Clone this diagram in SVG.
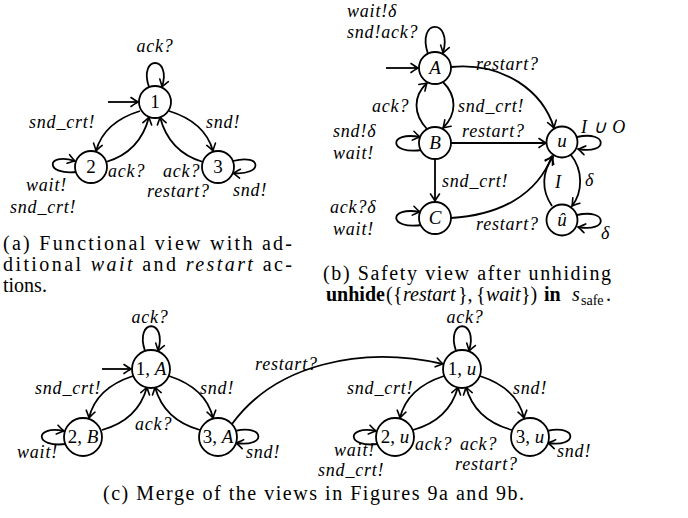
<svg xmlns="http://www.w3.org/2000/svg" width="688" height="518" viewBox="0 0 688 518">
<style>
.n{fill:#fff;stroke:#000;stroke-width:1.8}
.e{fill:none;stroke:#000;stroke-width:1.8;marker-end:url(#ar)}
.nl{font-family:"Liberation Serif",serif;font-size:19px;fill:#000;text-anchor:middle}
.lb{font-family:"Liberation Serif",serif;font-style:italic;font-size:18px;letter-spacing:0.8px;fill:#000}
.c{font-family:"Liberation Serif",serif;font-size:20px;fill:#000}
.i{font-style:italic}
.b{font-weight:bold}
.m{text-anchor:middle}
</style>
<defs>
<marker id="ar" viewBox="-9 -6 11 12" refX="0" refY="0" markerWidth="11" markerHeight="12" orient="auto" markerUnits="userSpaceOnUse">
<path d="M-7,-4.5 Q-2,-1 0,0 Q-2,1 -7,4.5" fill="none" stroke="#000" stroke-width="1.6" stroke-linecap="round"/>
</marker>
</defs>

<g id="connectors">
<!-- (a) -->
<path class="e" d="M108,102 L138,102"/>
<path class="e" d="M149,87 C 138,55 172,55 162,87"/>
<path class="e" d="M140,111 Q 104,122 96,151"/>
<path class="e" d="M106,162 Q 140,152 149,117"/>
<path class="e" d="M169,111 Q 205,122 213,151"/>
<path class="e" d="M203,162 Q 169,152 160,117"/>
<path class="e" d="M77,172 C 45,176 45,152 75,161"/>
<path class="e" d="M233,161 C 263,153 263,176 233,173"/>
<!-- (b) -->
<path class="e" d="M386,68 L418,68"/>
<path class="e" d="M428,54 C 416,18 453,18 443,53"/>
<path class="e" d="M443,82 C 457,96 457,114 443,128"/>
<path class="e" d="M427,129 C 413,114 413,96 427,83"/>
<path class="e" d="M422,150 C 388,155 388,131 420,137"/>
<path class="e" d="M435,159 L435,201"/>
<path class="e" d="M422,225 C 388,230 388,206 420,212"/>
<path class="e" d="M451,143 L546,143"/>
<path class="e" d="M451,67 C 505,62 543,92 554,128"/>
<path class="e" d="M451,218 C 500,215 537,195 552,156"/>
<path class="e" d="M577,137 C 608,130 609,155 578,149"/>
<path class="e" d="M571,155 C 583,170 583,192 572,206"/>
<path class="e" d="M552,206 C 541,190 542,172 553,157"/>
<path class="e" d="M577,215 C 608,208 609,233 578,227"/>
<!-- (c) -->
<path class="e" d="M102,369 L131,369"/>
<path class="e" d="M145,351 C 134,318 168,318 158,351"/>
<path class="e" d="M133,376 Q 96,388 89,418"/>
<path class="e" d="M102,430 Q 138,420 147,387"/>
<path class="e" d="M169,376 Q 206,388 213,418"/>
<path class="e" d="M200,430 Q 164,420 155,387"/>
<path class="e" d="M66,444 C 34,448 34,425 64,431"/>
<path class="e" d="M235,431 C 266,424 266,448 236,443"/>
<path class="e" d="M232,424 C 275,365 360,345 443,364"/>
<path class="e" d="M456,351 C 445,318 479,318 469,351"/>
<path class="e" d="M444,376 Q 407,388 400,418"/>
<path class="e" d="M413,430 Q 449,420 458,387"/>
<path class="e" d="M480,376 Q 517,388 524,418"/>
<path class="e" d="M512,430 Q 475,420 466,387"/>
<path class="e" d="M378,444 C 346,448 346,425 376,431"/>
<path class="e" d="M547,431 C 578,424 578,448 548,443"/>
</g>

<!-- (a) nodes -->
<g id="a1"><circle class="n" cx="155" cy="102" r="16"/><text class="nl" x="155" y="108">1</text></g>
<g id="a2"><circle class="n" cx="91" cy="167" r="16"/><text class="nl" x="91" y="173">2</text></g>
<g id="a3"><circle class="n" cx="218" cy="167" r="16"/><text class="nl" x="218" y="173">3</text></g>

<!-- (b) nodes -->
<g id="bA"><circle class="n" cx="435" cy="68" r="16"/><text class="nl i" x="435" y="74">A</text></g>
<g id="bB"><circle class="n" cx="435" cy="143" r="16"/><text class="nl i" x="435" y="149">B</text></g>
<g id="bC"><circle class="n" cx="435" cy="218" r="16"/><text class="nl i" x="435" y="224">C</text></g>
<g id="bu"><circle class="n" cx="562" cy="142" r="15.5"/><text class="nl i" x="562" y="147">u</text></g>
<g id="buhat"><circle class="n" cx="562" cy="220" r="15.5"/><text class="nl i" x="562" y="226">û</text></g>

<!-- (c) nodes -->
<g id="c1A"><circle class="n" cx="151" cy="369" r="19"/><text class="nl" x="151" y="375">1, <tspan class="i">A</tspan></text></g>
<g id="c2B"><circle class="n" cx="83" cy="437" r="19"/><text class="nl" x="83" y="443">2, <tspan class="i">B</tspan></text></g>
<g id="c3A"><circle class="n" cx="218" cy="437" r="19"/><text class="nl" x="218" y="443">3, <tspan class="i">A</tspan></text></g>
<g id="c1u"><circle class="n" cx="462" cy="369" r="19"/><text class="nl" x="462" y="375">1, <tspan class="i">u</tspan></text></g>
<g id="c2u"><circle class="n" cx="395" cy="437" r="19"/><text class="nl" x="395" y="443">2, <tspan class="i">u</tspan></text></g>
<g id="c3u"><circle class="n" cx="530" cy="437" r="19"/><text class="nl" x="530" y="443">3, <tspan class="i">u</tspan></text></g>

<g id="labels">
<!-- (a) -->
<text class="lb m" x="155" y="52">ack?</text>
<text class="lb" x="29" y="128">snd_crt!</text>
<text class="lb" x="206" y="128">snd!</text>
<text class="lb" x="108" y="177">ack?</text>
<text class="lb" x="163" y="177">ack?</text>
<text class="lb" x="147" y="197">restart?</text>
<text class="lb" x="26" y="191">wait!</text>
<text class="lb" x="10" y="213">snd_crt!</text>
<text class="lb" x="233" y="196">snd!</text>
<!-- (b) -->
<text class="lb" x="347" y="17">wait!δ</text>
<text class="lb" x="347" y="38">snd!ack?</text>
<text class="lb" x="372" y="112">ack?</text>
<text class="lb" x="458" y="112">snd_crt!</text>
<text class="lb" x="476" y="70">restart?</text>
<text class="lb" x="462" y="137">restart?</text>
<text class="lb" x="442" y="187">snd_crt!</text>
<text class="lb" x="476" y="230">restart?</text>
<text class="lb" x="333" y="137">snd!δ</text>
<text class="lb" x="333" y="159">wait!</text>
<text class="lb" x="330" y="213">ack?δ</text>
<text class="lb" x="333" y="235">wait!</text>
<text class="lb" x="581" y="133">I ∪ O</text>
<text class="lb" x="585" y="186">δ</text>
<text class="lb" x="555" y="188">I</text>
<text class="lb" x="601" y="239">δ</text>
<!-- (c) -->
<text class="lb m" x="150" y="323">ack?</text>
<text class="lb" x="35" y="394">snd_crt!</text>
<text class="lb" x="200" y="394">snd!</text>
<text class="lb" x="135" y="430">ack?</text>
<text class="lb" x="17" y="458">wait!</text>
<text class="lb" x="246" y="458">snd!</text>
<text class="lb" x="255" y="370">restart?</text>
<text class="lb m" x="465" y="323">ack?</text>
<text class="lb" x="347" y="394">snd_crt!</text>
<text class="lb" x="513" y="394">snd!</text>
<text class="lb" x="415" y="450">ack?</text>
<text class="lb" x="460" y="450">ack?</text>
<text class="lb" x="455" y="470">restart?</text>
<text class="lb" x="334" y="456">wait!</text>
<text class="lb" x="318" y="476">snd_crt!</text>
<text class="lb" x="557" y="457">snd!</text>
</g>

<g id="captions">
<text class="c" x="3" y="250" textLength="289" lengthAdjust="spacing">(a) Functional view with ad-</text>
<text class="c" x="3" y="271" textLength="289" lengthAdjust="spacing">ditional <tspan class="i">wait</tspan> and <tspan class="i">restart</tspan> ac-</text>
<text class="c" x="3" y="292">tions.</text>
<text class="c" x="323" y="280" textLength="288" lengthAdjust="spacing">(b) Safety view after unhiding</text>
<text class="c" y="301"><tspan x="326" class="b">unhide</tspan><tspan x="386">(</tspan><tspan x="393">{</tspan><tspan x="403" class="i">restart</tspan><tspan x="458">},</tspan><tspan x="476">{</tspan><tspan x="486" class="i">wait</tspan><tspan x="521">})</tspan><tspan x="544" class="b">in</tspan><tspan x="572" class="i">s</tspan><tspan x="581" y="305" font-size="14">safe</tspan><tspan x="606" y="301">.</tspan></text>
<text class="c" x="103" y="500" textLength="421" lengthAdjust="spacing">(c) Merge of the views in Figures 9a and 9b.</text>
</g>
</svg>
